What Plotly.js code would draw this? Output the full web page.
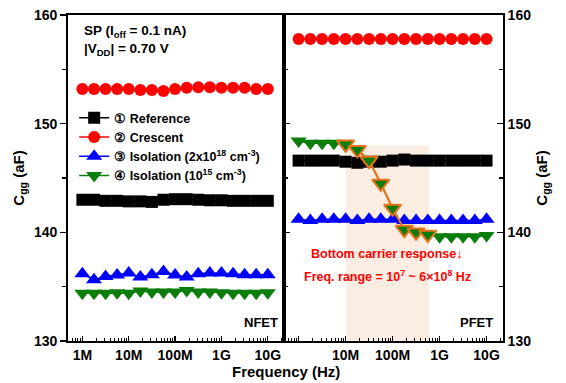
<!DOCTYPE html>
<html>
<head>
<meta charset="utf-8">
<script src="https://cdn.plot.ly/plotly-3.0.1.min.js"></script>
<style>html,body{margin:0;padding:0;background:#fff;}#chart{width:566px;height:383px;}</style>
</head>
<body>
<div id="chart"></div>
<script>
// Frequency points (Hz)
const freq = [1e6, 1.78e6, 3.16e6, 5.62e6, 1e7, 1.78e7, 3.16e7, 5.62e7, 1e8, 1.78e8, 3.16e8, 5.62e8, 1e9, 1.78e9, 3.16e9, 5.62e9, 1e10];

// NFET Cgg (aF)
const nfetReference = [143.0, 143.0, 142.9, 142.9, 142.85, 142.85, 142.8, 143.0, 143.05, 143.05, 143.0, 142.95, 142.95, 142.9, 142.9, 142.9, 142.9];
const nfetCrescent  = [153.2, 153.2, 153.2, 153.2, 153.2, 153.1, 153.1, 153.0, 153.2, 153.3, 153.35, 153.35, 153.3, 153.3, 153.3, 153.2, 153.2];
const nfetIso18     = [136.19, 135.64, 135.94, 136.07, 136.25, 135.88, 136.10, 136.40, 136.07, 135.88, 136.19, 136.25, 136.25, 136.19, 136.10, 136.10, 136.10];
const nfetIso15     = [134.4, 134.4, 134.4, 134.45, 134.4, 134.6, 134.5, 134.5, 134.5, 134.65, 134.5, 134.5, 134.45, 134.4, 134.4, 134.4, 134.45];

// PFET Cgg (aF)
const pfetReference = [146.6, 146.6, 146.6, 146.6, 146.5, 146.4, 146.5, 146.5, 146.6, 146.7, 146.6, 146.6, 146.6, 146.6, 146.6, 146.6, 146.6];
const pfetCrescent  = [157.8, 157.8, 157.8, 157.8, 157.8, 157.8, 157.8, 157.8, 157.8, 157.8, 157.8, 157.8, 157.8, 157.8, 157.8, 157.8, 157.8];
const pfetIso18     = [141.2, 141.1, 141.2, 141.2, 141.2, 141.1, 141.2, 141.2, 141.2, 141.1, 141.1, 141.1, 141.1, 141.1, 141.1, 141.1, 141.2];
const pfetIso15     = [148.4, 148.2, 148.2, 148.2, 148.1, 147.6, 146.6, 144.5, 142.2, 140.25, 140.0, 139.8, 139.6, 139.6, 139.6, 139.6, 139.7];

// Bottom-carrier response range (indices into freq), 1e7 .. 6e8 Hz
const respStart = 4, respEnd = 11;
const respRange = [1e7, 6e8];

const seriesNames = ['\u2460 Reference', '\u2461 Crescent', '\u2462 Isolation (2x10<sup>18</sup> cm<sup>-3</sup>)', '\u2463 Isolation (10<sup>15</sup> cm<sup>-3</sup>)'];
const tickVals = [1e6, 1e7, 1e8, 1e9, 1e10];
const tickTextL = ['1M', '10M', '100M', '1G', '10G'];
const tickTextR = ['', '10M', '100M', '1G', '10G'];

const BLACK = '#000000', RED = '#ff0000', BLUE = '#0000ff', GREEN = '#0a7d0a', ORANGE = '#e8731a';

const styles = [
  {color: BLACK, symbol: 'square', size: 12},
  {color: RED, symbol: 'circle', size: 12},
  {color: BLUE, symbol: 'triangle-up', size: 14},
  {color: GREEN, symbol: 'triangle-down', size: 14}
];

const nData = [nfetReference, nfetCrescent, nfetIso18, nfetIso15];
const pData = [pfetReference, pfetCrescent, pfetIso18, pfetIso15];

const traces = [];
nData.forEach((d, i) => {
  traces.push({
    x: freq, y: d, xaxis: 'x', yaxis: 'y', type: 'scatter', mode: 'lines+markers',
    name: seriesNames[i], showlegend: true,
    line: {color: styles[i].color, width: 1.5},
    marker: {color: styles[i].color, symbol: styles[i].symbol, size: styles[i].size, line: {width: 0}}
  });
});
pData.forEach((d, i) => {
  traces.push({
    x: freq, y: d, xaxis: 'x2', yaxis: 'y2', type: 'scatter', mode: 'lines+markers',
    name: seriesNames[i], showlegend: false,
    line: {color: styles[i].color, width: 1.5},
    marker: {color: styles[i].color, symbol: styles[i].symbol, size: styles[i].size, line: {width: 0}}
  });
});
// highlighted response region
traces.push({
  x: freq.slice(respStart, respEnd + 1), y: pfetIso15.slice(respStart, respEnd + 1),
  xaxis: 'x2', yaxis: 'y2', type: 'scatter', mode: 'lines+markers', showlegend: false,
  line: {color: ORANGE, width: 2},
  marker: {color: GREEN, symbol: 'triangle-down', size: 15, line: {color: ORANGE, width: 2}}
});

const minorVals = [];
for (let e = 5; e <= 10; e++) for (let m = 2; m <= 9; m++) minorVals.push(m * Math.pow(10, e));

const xRange = [5.69, 10.35];
const FONT = 'Liberation Sans, Arial, Helvetica, sans-serif';

function xax(domain, ttext) {
  return {
    type: 'log', domain: domain, range: xRange, anchor: domain[0] === 0 ? 'y' : 'y2',
    tickmode: 'array', tickvals: tickVals, ticktext: ttext,
    ticks: 'inside', ticklen: 5, tickwidth: 1.3, tickcolor: '#000',
    minor: {tickmode: 'array', tickvals: minorVals, ticks: 'inside', ticklen: 3, tickwidth: 1, tickcolor: '#000'},
    showline: true, linecolor: '#000', linewidth: 1.8, mirror: true,
    showgrid: false, zeroline: false,
    tickfont: {family: FONT, size: 14, color: '#000', weight: 'bold'}
  };
}

const yTitle = {text: 'C<sub>gg</sub> (aF)', font: {family: FONT, size: 15, color: '#000', weight: 'bold'}, standoff: 6};
const yTickFont = {family: FONT, size: 14, color: '#000', weight: 'bold'};

const layout = {
  width: 566, height: 383,
  margin: {l: 68, r: 63, t: 15, b: 42},
  paper_bgcolor: '#fff', plot_bgcolor: 'rgba(0,0,0,0)',
  font: {family: FONT, size: 14, color: '#000', weight: 'bold'},
  showlegend: true,
  legend: {
    x: 0.0142, y: 0.730, xanchor: 'left', yanchor: 'top',
    bgcolor: 'rgba(0,0,0,0)', borderwidth: 0,
    font: {family: FONT, size: 12.5, color: '#000', weight: 'bold'},
    tracegroupgap: 0, itemwidth: 30
  },
  xaxis: xax([0, 0.4966], tickTextL),
  xaxis2: xax([0.4966, 1], tickTextR),
  yaxis: {
    domain: [0, 1], range: [130, 160], anchor: 'x', side: 'left',
    tickmode: 'linear', tick0: 130, dtick: 10,
    ticks: 'outside', ticklen: 6, tickwidth: 1.3, tickcolor: '#000',
    minor: {dtick: 5, tick0: 130, ticks: 'outside', ticklen: 4, tickwidth: 1.2, tickcolor: '#000'},
    showline: true, linecolor: '#000', linewidth: 1.8, mirror: true,
    showgrid: false, zeroline: false, tickfont: yTickFont, title: yTitle, automargin: false
  },
  yaxis3: {
    overlaying: 'y', anchor: 'x', side: 'right', range: [130, 160],
    tickmode: 'linear', tick0: 130, dtick: 10,
    ticks: 'inside', ticklen: 6, tickwidth: 1.3, tickcolor: '#000',
    minor: {dtick: 5, tick0: 130, ticks: 'inside', ticklen: 4, tickwidth: 1.2, tickcolor: '#000'},
    showline: false, showticklabels: false, showgrid: false, zeroline: false
  },
  yaxis2: {
    domain: [0, 1], range: [130, 160], anchor: 'x2', side: 'right',
    tickmode: 'linear', tick0: 130, dtick: 10,
    ticks: 'inside', ticklen: 6, tickwidth: 1.3, tickcolor: '#000',
    minor: {dtick: 5, tick0: 130, ticks: 'inside', ticklen: 4, tickwidth: 1.2, tickcolor: '#000'},
    showline: true, linecolor: '#000', linewidth: 1.8, mirror: 'ticks',
    showgrid: false, zeroline: false, tickfont: yTickFont, title: yTitle, automargin: false
  },
  shapes: [{
    type: 'rect', xref: 'x2', yref: 'y2', layer: 'below',
    x0: respRange[0], x1: respRange[1], y0: 130, y1: 148,
    fillcolor: '#fcede2', line: {width: 0}
  }],
  annotations: [
    {xref: 'paper', yref: 'paper', x: 0.032, y: 0.948, xanchor: 'left', yanchor: 'middle', showarrow: false,
     text: 'SP (I<sub>off</sub> = 0.1 nA)', font: {family: FONT, size: 13.5, color: '#000', weight: 'bold'}},
    {xref: 'paper', yref: 'paper', x: 0.032, y: 0.893, xanchor: 'left', yanchor: 'middle', showarrow: false,
     text: '|V<sub>DD</sub>| = 0.70 V', font: {family: FONT, size: 13.5, color: '#000', weight: 'bold'}},
    {xref: 'paper', yref: 'paper', x: 0.487, y: 0.058, xanchor: 'right', yanchor: 'middle', showarrow: false,
     text: 'NFET', font: {family: FONT, size: 13, color: '#000', weight: 'bold'}},
    {xref: 'paper', yref: 'paper', x: 0.9816, y: 0.058, xanchor: 'right', yanchor: 'middle', showarrow: false,
     text: 'PFET', font: {family: FONT, size: 13, color: '#000', weight: 'bold'}},
    {xref: 'paper', yref: 'paper', x: 0.733, y: 0.267, xanchor: 'center', yanchor: 'middle', showarrow: false,
     text: 'Bottom carrier response\u2193', font: {family: FONT, size: 12.5, color: RED, weight: 'bold'}},
    {xref: 'paper', yref: 'paper', x: 0.7356, y: 0.199, xanchor: 'center', yanchor: 'middle', showarrow: false,
     text: 'Freq. range = 10<sup>7</sup> ~ 6\u00d710<sup>8</sup> Hz', font: {family: FONT, size: 12.5, color: RED, weight: 'bold'}},
    {xref: 'paper', yref: 'paper', x: 0.5, y: -0.095, xanchor: 'center', yanchor: 'middle', showarrow: false,
     text: 'Frequency (Hz)', font: {family: FONT, size: 15, color: '#000', weight: 'bold'}}
  ]
};

Plotly.newPlot('chart', traces, layout, {displayModeBar: false, staticPlot: true});
</script>
</body>
</html>
